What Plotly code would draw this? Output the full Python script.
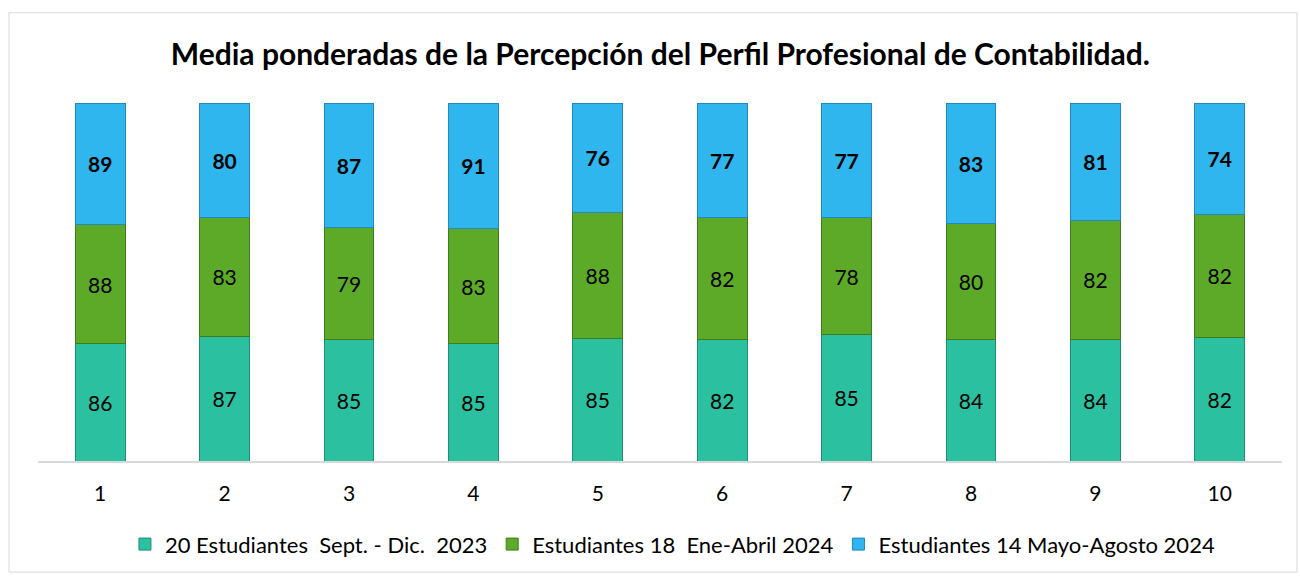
import plotly.graph_objects as go

categories = ["1", "2", "3", "4", "5", "6", "7", "8", "9", "10"]
series_names = [
    "20 Estudiantes  Sept. - Dic.  2023",
    "Estudiantes 18  Ene-Abril 2024",
    "Estudiantes 14 Mayo-Agosto 2024",
]
sept_dic_2023 = [86, 87, 85, 85, 85, 82, 85, 84, 84, 82]
ene_abril_2024 = [88, 83, 79, 83, 88, 82, 78, 80, 82, 82]
mayo_agosto_2024 = [89, 80, 87, 91, 76, 77, 77, 83, 81, 74]
title_text = "Media ponderadas de la Percepción del Perfil Profesional de Contabilidad."

FONT = "Lato, 'Open Sans', sans-serif"
colors = ["#2BC0A0", "#5CAA28", "#30B6EE"]
edges = ["#1E8E75", "#3F7D1A", "#2389BC"]
bold = [False, False, True]

fig = go.Figure()
for name, vals, c, e, b in zip(series_names, [sept_dic_2023, ene_abril_2024, mayo_agosto_2024], colors, edges, bold):
    fig.add_trace(go.Bar(
        x=categories, y=vals, name=name,
        marker=dict(color=c, line=dict(color=e, width=1)),
        text=[f"<b>{v}</b>" if b else str(v) for v in vals],
        textposition="inside", insidetextanchor="middle",
        textfont=dict(family=FONT, size=21, color="black"),
        textangle=0,
    ))

H = 577 - 103 - 113
fig.update_layout(
    barmode="stack", barnorm="percent", bargap=0.6,
    width=1300, height=577,
    paper_bgcolor="white", plot_bgcolor="white",
    margin=dict(l=38, r=18, t=103, b=113),
    title=dict(text=f"<b>{title_text}</b>", x=0.508, xanchor="center", y=0.905, yanchor="middle",
               font=dict(family=FONT, size=30, color="black")),
    legend=dict(orientation="h", x=0.51, xanchor="center", y=(464 - 548) / H, yanchor="middle",
                font=dict(family=FONT, size=22, color="black"), traceorder="normal",
                itemwidth=30),
    uniformtext=dict(mode=False),
    shapes=[dict(type="rect", xref="paper", yref="paper",
                 x0=-29/1244, x1=(1297-38)/1244, y0=(464-576)/H, y1=(464-12)/H,
                 line=dict(color="#D9D9D9", width=1), fillcolor="rgba(0,0,0,0)", layer="below")],
)
fig.update_xaxes(showline=True, linecolor="#D9D9D9", linewidth=2, ticks="outside", ticklen=13,
                 tickcolor="rgba(0,0,0,0)", tickfont=dict(family=FONT, size=21, color="black"),
                 showgrid=False)
fig.update_yaxes(visible=False, range=[0, 100], showgrid=False)

fig.write_html("out.html", config={"displayModeBar": False},
               post_script="document.body.style.margin='0';document.body.style.overflow='hidden';")
